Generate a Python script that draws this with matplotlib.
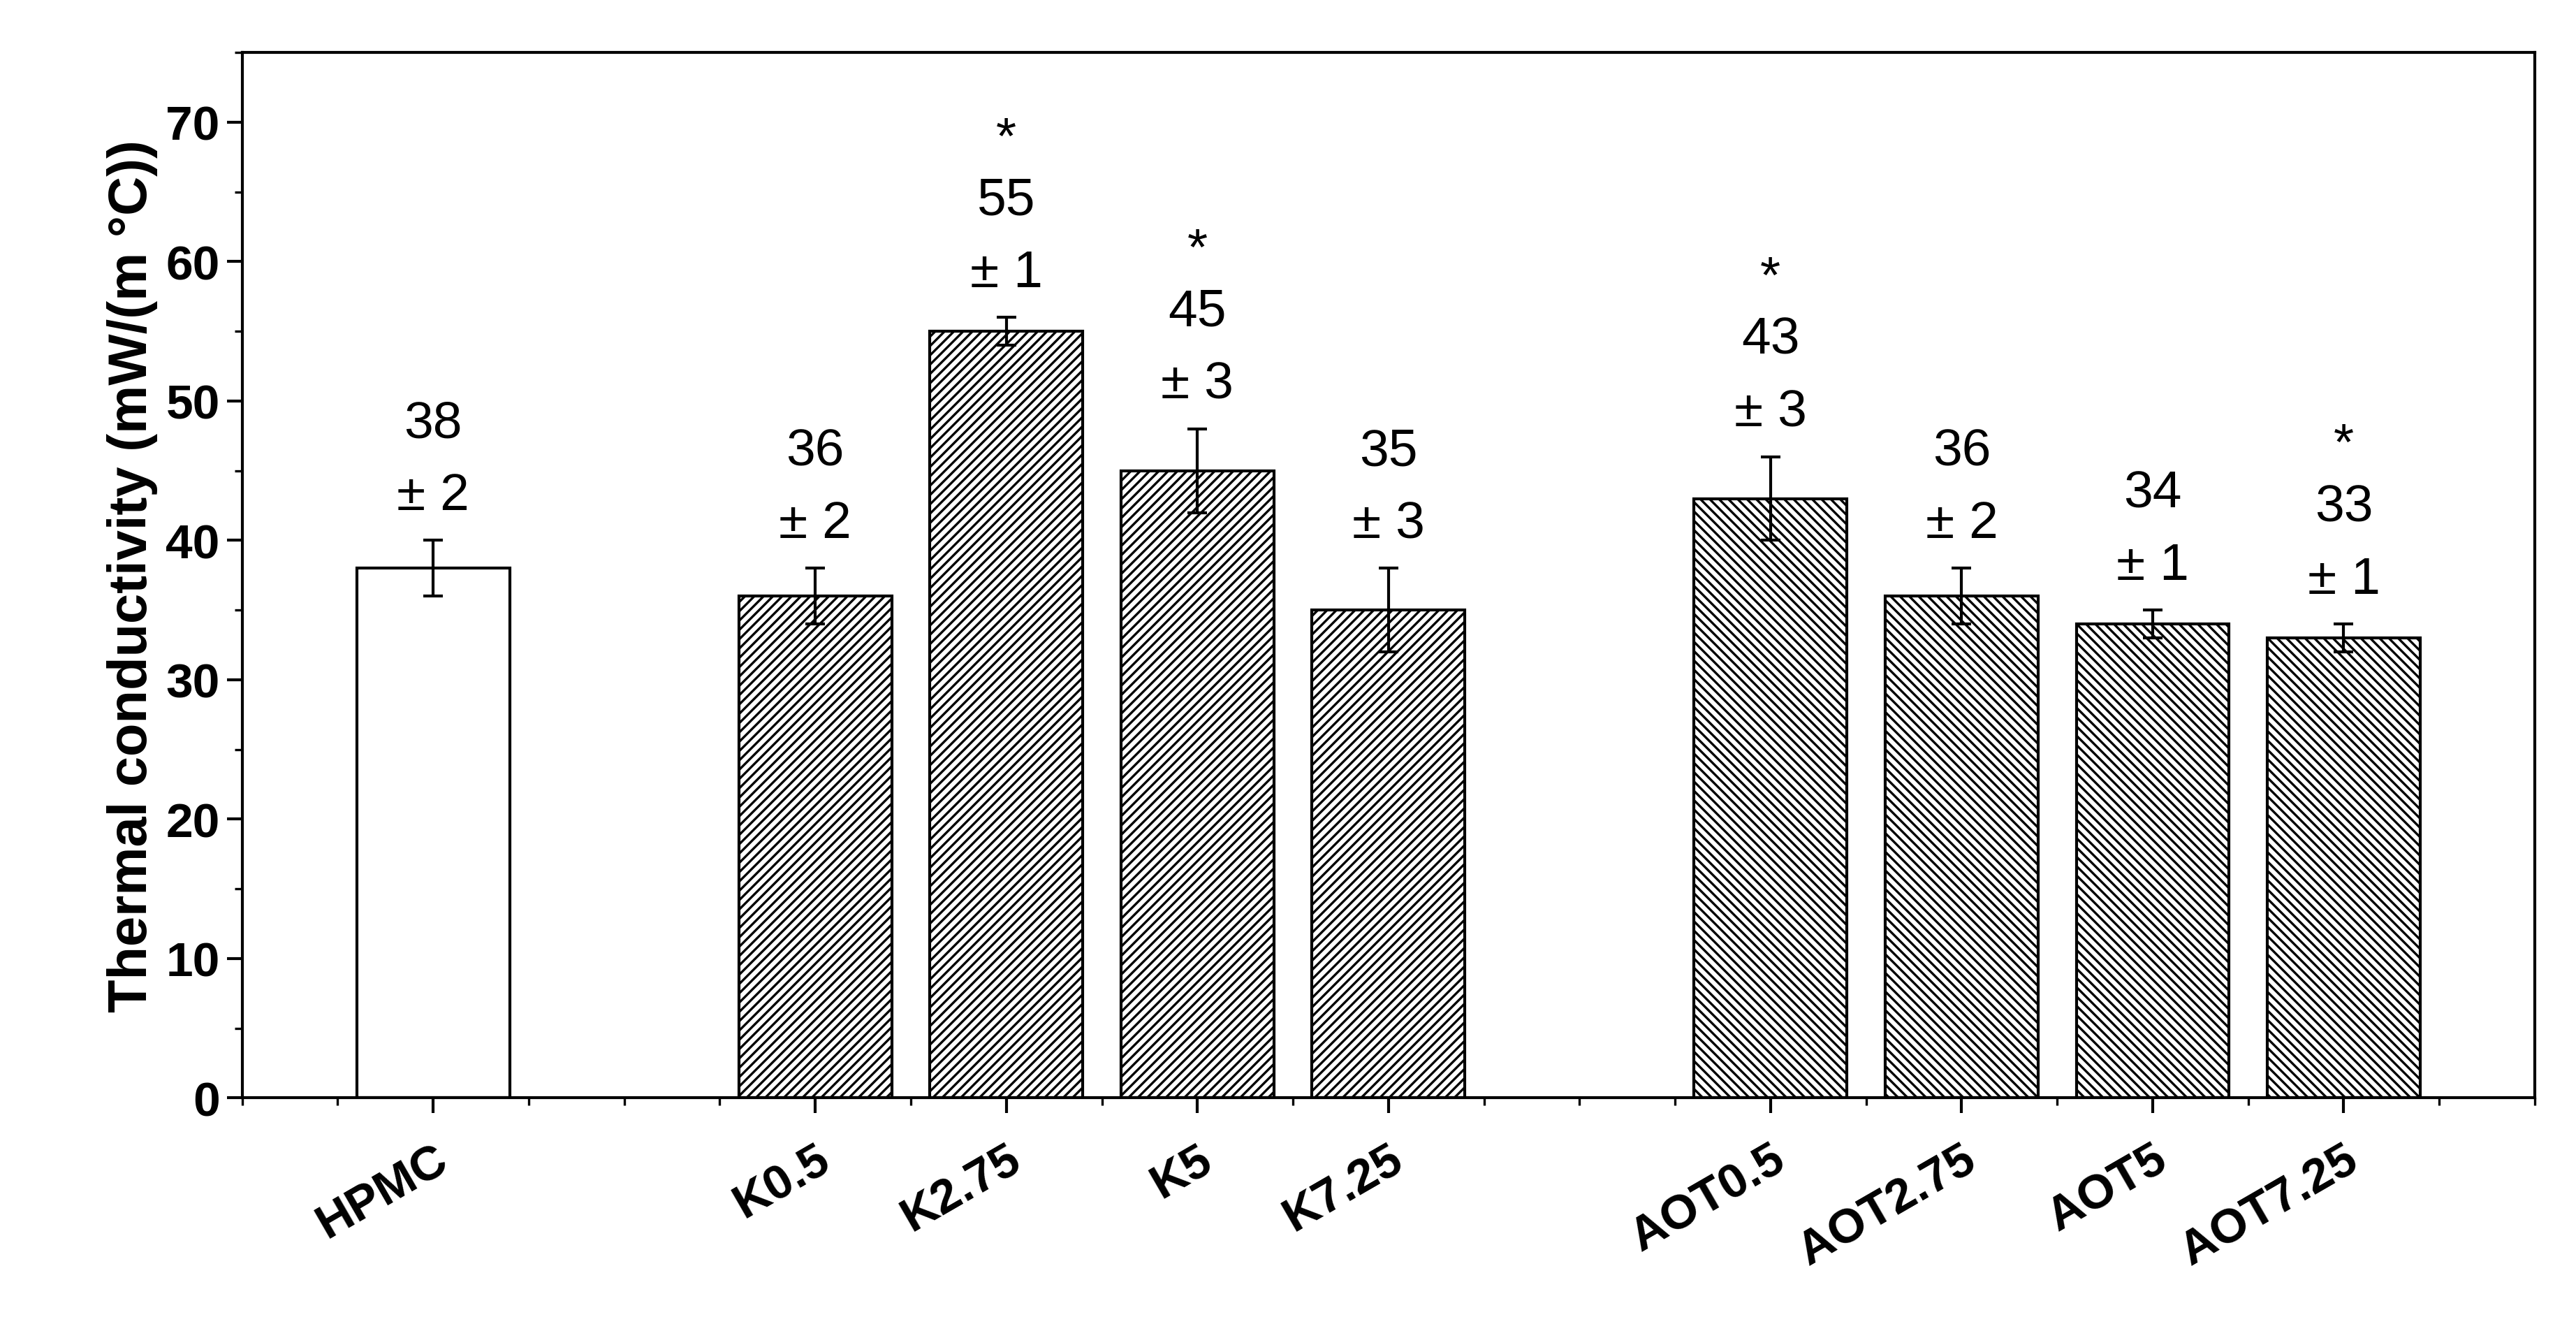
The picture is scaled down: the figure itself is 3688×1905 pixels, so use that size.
import matplotlib
matplotlib.use("Agg")
import matplotlib.pyplot as plt
from matplotlib.ticker import MultipleLocator

plt.rcParams["font.family"] = ["Liberation Sans", "DejaVu Sans"]
plt.rcParams["hatch.linewidth"] = 1.2

# ── data ──────────────────────────────────────────────────────────────────────
labels = ["HPMC", "K0.5", "K2.75", "K5", "K7.25",
          "AOT0.5", "AOT2.75", "AOT5", "AOT7.25"]
positions = [0, 2, 3, 4, 5, 7, 8, 9, 10]
values = [38, 36, 55, 45, 35, 43, 36, 34, 33]
errors = [2, 2, 1, 3, 3, 3, 2, 1, 1]
starred = [False, False, True, True, False, True, False, False, True]
hatches = ["", "/////", "/////", "/////", "/////",
           "\\\\\\\\\\", "\\\\\\\\\\", "\\\\\\\\\\", "\\\\\\\\\\"]

fig = plt.figure(figsize=(18.44, 9.53), dpi=200)
ax = fig.add_axes([0.094, 0.175, 0.89, 0.785])

for x, v, e, h, s in zip(positions, values, errors, hatches, starred):
    ax.bar(x, v, width=0.8, color="white", edgecolor="black", hatch=h, lw=1.5)
    ax.errorbar(x, v, yerr=e, color="black", capsize=5, lw=1.5, capthick=1.5)
    top = v + e
    ax.text(x, top + 3.2, f"± {e}", ha="center", va="center", fontsize=27)
    ax.text(x, top + 8.4, f"{v}", ha="center", va="center", fontsize=27)
    if s:
        ax.text(x, top + 12.8, "*", ha="center", va="center", fontsize=27)

ax.set_xlim(-1, 11)
ax.set_ylim(0, 75)
ax.set_xticks(positions)
ax.set_xticklabels(labels, rotation=30, ha="right", rotation_mode="anchor",
                   fontsize=25, fontweight="bold")
ax.xaxis.set_minor_locator(MultipleLocator(0.5))
ax.yaxis.set_major_locator(MultipleLocator(10))
ax.yaxis.set_minor_locator(MultipleLocator(5))
ax.tick_params(axis="y", labelsize=25, width=1.5, length=8)
ax.tick_params(axis="x", width=1.5, length=8, pad=12)
ax.tick_params(which="minor", width=1.2, length=4)
for lab in ax.get_yticklabels():
    lab.set_fontweight("bold")
for sp in ax.spines.values():
    sp.set_linewidth(1.5)
ax.set_ylabel("Thermal conductivity (mW/(m °C))", fontsize=28, fontweight="bold")

fig.savefig("out.png", dpi=200)
